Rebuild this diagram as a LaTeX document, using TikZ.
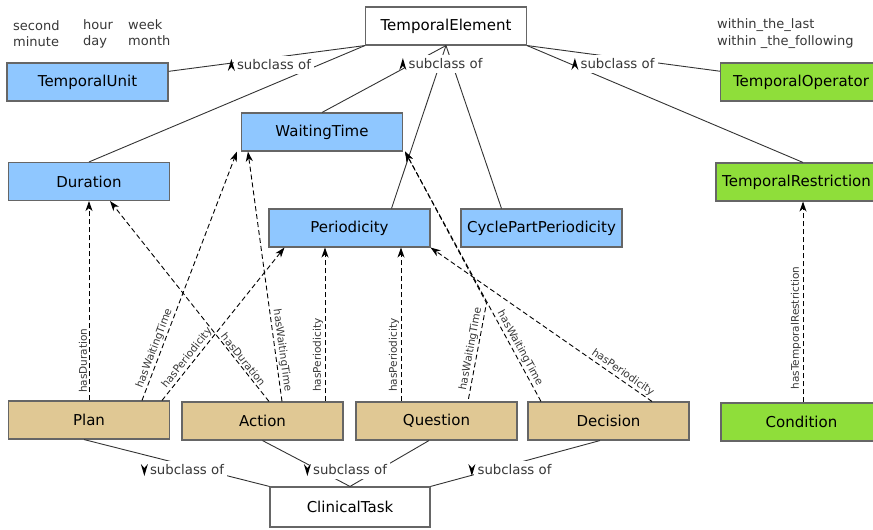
\documentclass[tikz,border=0pt]{standalone}
\usepackage{fontspec}
\setmainfont{DejaVu Sans}
\usetikzlibrary{positioning, arrows.meta}

\definecolor{classblue}{RGB}{143,199,255}
\definecolor{opgreen}{RGB}{143,222,58}
\definecolor{tasktan}{RGB}{224,200,148}
\definecolor{edgegray}{RGB}{55,55,55}

\begin{document}
\begin{tikzpicture}[x=1pt, y=-1pt,
    box/.style={draw=black!60, line width=1.1pt, minimum width=161pt, minimum height=38pt, inner sep=0pt, font=\fontsize{15}{18}\selectfont},
    rootcls/.style={box, fill=white},
    tempcls/.style={box, fill=classblue},
    opcls/.style={box, fill=opgreen},
    taskcls/.style={box, fill=tasktan},
    isa/.style={line width=0.9pt, black!80},
    has/.style={line width=0.9pt, dash pattern=on 5pt off 3pt, -{Stealth[length=10pt,width=7pt,inset=3pt]}},
    rel/.style={sloped, above, pos=#1, inner sep=1.5pt, font=\fontsize{10.5}{12}\selectfont, text=edgegray},
    isalabel/.style={fill=white, inner sep=3.5pt, font=\fontsize{13.3}{15}\selectfont, text=edgegray},
    hint/.style={anchor=base west, inner sep=0pt, font=\fontsize{13}{15}\selectfont, text=edgegray}
]
    \useasboundingbox (0,0) rectangle (873,530);

    \node[rootcls] (te) at (446,26) {TemporalElement};
    \node[tempcls] (tu) at (87.5,82) {TemporalUnit};
    \node[opcls] (to) at (801,82) {TemporalOperator};
    \node[tempcls] (wt) at (322,132) {WaitingTime};
    \node[tempcls] (dur) at (89,181.5) {Duration};
    \node[opcls] (tr) at (796.5,182) {TemporalRestriction};
    \node[tempcls] (per) at (349.5,228) {Periodicity};
    \node[tempcls] (cpp) at (541.5,228) {CyclePartPeriodicity};
    \node[taskcls] (plan) at (89,420) {Plan};
    \node[taskcls] (act) at (262.5,421) {Action};
    \node[taskcls] (que) at (436.5,421) {Question};
    \node[taskcls] (dec) at (608.5,421) {Decision};
    \node[opcls] (con) at (801.5,422) {Condition};
    \node[rootcls, minimum width=160pt, minimum height=40pt] (ct) at (350,507) {ClinicalTask};

    \foreach \w/\x/\y [count=\i] in {second/13/30.5, minute/13/46.5, hour/83/29.5, day/83/45,
        week/128/29.5, month/128/45, within\_the\_last/717/28.5, within \_the\_following/717/45}
        \node[hint] (hint\i) at (\x,\y) {\w};

    \draw[isa] (tu) -- (te.south west);
    \draw[isa] (dur.north) -- (te.south west);
    \draw[isa] (wt.north) -- (te.south);
    \draw[isa] ([xshift=42pt]per.north) -- (te.south);
    \draw[isa] ([xshift=-40pt]cpp.north) -- (te.south);
    \draw[isa] (to) -- (te.south east);
    \draw[isa] ([xshift=6.5pt]tr.north) -- (te.south east);

    \draw[isa] ([xshift=-5pt]plan.south) -- (ct.north west);
    \draw[isa] (act.south) -- (ct.north);
    \draw[isa] ([xshift=-7.5pt]que.south) -- (ct.north);
    \draw[isa] ([xshift=-8.5pt]dec.south) -- (ct.north east);

    \foreach \n/\x/\y/\d in {sa/274/65/1, sb/445.5/64/1, sc/617.5/64/1,
        sd/187/470/-1, se/350/470/-1, sf/514.5/470/-1} {
        \node[isalabel] (\n) at (\x,\y) {subclass of};
        \fill[black] ([xshift=-2pt]\n.west) ++(-3.5pt,{-6pt*\d}) -- ++(3.5pt,{12pt*\d}) -- ++(3.5pt,{-12pt*\d}) -- ++(-3.5pt,{4pt*\d}) -- cycle;
    }

    \coordinate (qbend) at (486.5,303);

    \draw[has] (plan.north) -- node[rel=0.2] {hasDuration} (dur.south);
    \draw[has] ([xshift=53pt]plan.north) -- node[rel=0.2] {hasWaitingTime} ([xshift=-4pt]wt.south west);
    \draw[has] ([xshift=73pt]plan.north) -- node[rel=0.25] {hasPeriodicity} ([xshift=16pt]per.south west);
    \draw[has] ([xshift=6.5pt]act.north) -- node[rel=0.19] {hasDuration} ([xshift=21pt]dur.south);
    \draw[has] ([xshift=19.5pt]act.north) -- node[rel=0.2] {hasWaitingTime} ([xshift=7pt]wt.south west);
    \draw[has] ([xshift=62.5pt]act.north) -- node[rel=0.3] {hasPeriodicity} ([xshift=-24.5pt]per.south);
    \draw[has] ([xshift=-35.5pt]que.north) -- node[rel=0.3] {hasPeriodicity} ([xshift=51.5pt]per.south);
    \draw[has, dash phase=5.3pt] ([xshift=31.5pt]que.north) -- node[rel=0.52] {hasWaitingTime} (qbend) -- ([xshift=2pt]wt.south east);
    \draw[has] ([xshift=-67.5pt]dec.north) -- node[rel=0.2] {hasWaitingTime} ([xshift=2pt]wt.south east);
    \draw[has] ([xshift=43.5pt]dec.north) -- node[rel=0.15] {hasPeriodicity} (per.south east);
    \draw[has] ([xshift=1.5pt]con.north) -- node[rel=0.37] {hasTemporalRestriction} ([xshift=6.5pt]tr.south);
\end{tikzpicture}
\end{document}
